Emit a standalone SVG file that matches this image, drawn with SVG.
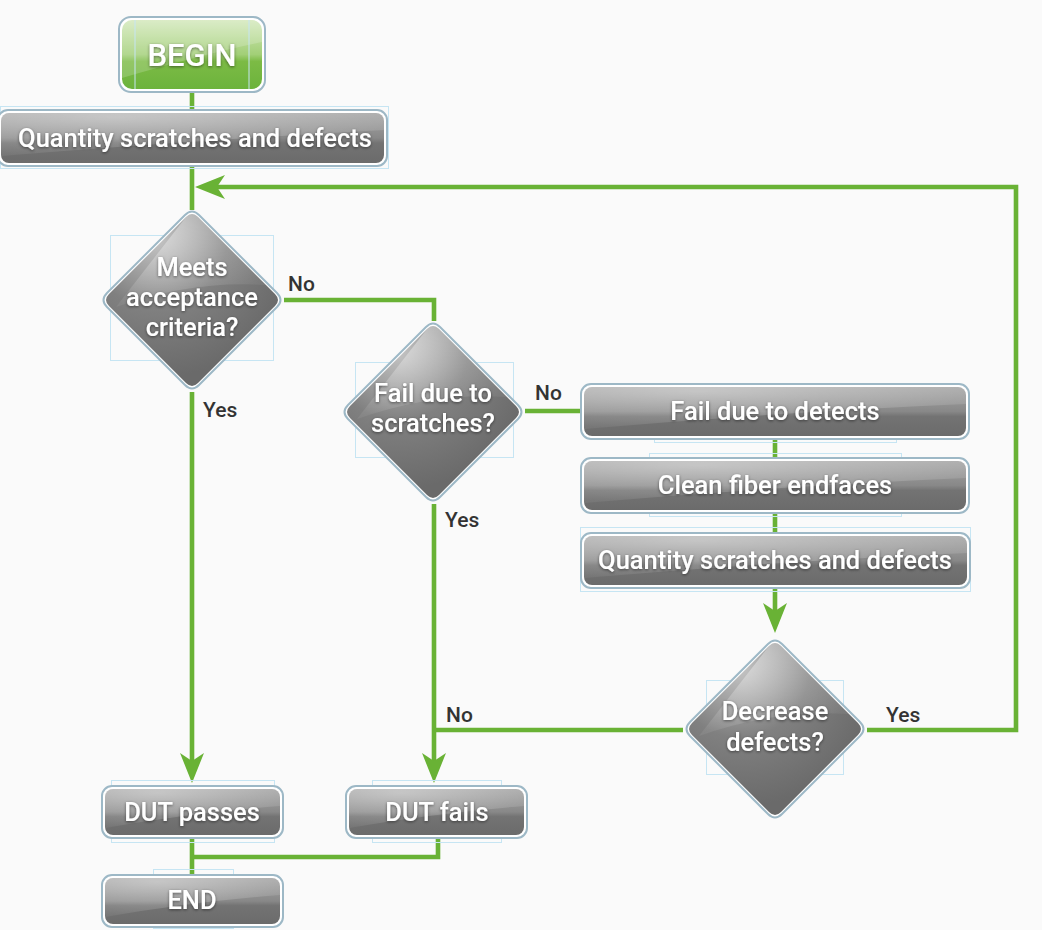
<svg xmlns="http://www.w3.org/2000/svg" width="1042" height="930" viewBox="0 0 1042 930">
<defs>
<style>
.bg{fill:#fafafa}
.frame{fill:none;stroke:#c6e5f3;stroke-width:1}
.ring{fill:#ffffff;stroke:#9db8c6;stroke-width:2}
.body{fill:url(#gray)}
.gbody{fill:url(#green)}
.gloss{fill:url(#glossG)}
.t{font-family:Roboto,"DejaVu Sans",sans-serif;font-weight:500;fill:#ffffff;font-size:25.5px;text-anchor:middle;filter:url(#sh)}
.td{font-size:25.5px}
.l{font-family:Roboto,"DejaVu Sans",sans-serif;font-weight:500;fill:#333333;font-size:21px}
.c{fill:none;stroke:#69b235;stroke-width:4.6}
</style>
<linearGradient id="gray" x1="0" y1="0" x2="0" y2="1">
<stop offset="0" stop-color="#a4a4a4"/>
<stop offset="0.5" stop-color="#888888"/>
<stop offset="0.6" stop-color="#737373"/>
<stop offset="1" stop-color="#6b6b6b"/>
</linearGradient>
<radialGradient id="dgray" cx="0.3" cy="0.15" r="0.8">
<stop offset="0" stop-color="#c4c4c4"/>
<stop offset="0.5" stop-color="#808080"/>
<stop offset="1" stop-color="#6a6a6a"/>
</radialGradient>
<linearGradient id="green" x1="0" y1="0" x2="0" y2="1">
<stop offset="0" stop-color="#d3e8bb"/>
<stop offset="0.5" stop-color="#a2cf77"/>
<stop offset="0.6" stop-color="#7cbb45"/>
<stop offset="1" stop-color="#6cb33c"/>
</linearGradient>
<radialGradient id="glossG" cx="0.3" cy="0.1" r="0.9">
<stop offset="0" stop-color="#ffffff" stop-opacity="0.4"/>
<stop offset="1" stop-color="#ffffff" stop-opacity="0.06"/>
</radialGradient>
<filter id="sh" x="-10%" y="-30%" width="120%" height="160%">
<feDropShadow dx="0" dy="1" stdDeviation="1.5" flood-color="#000" flood-opacity="0.5"/>
</filter>
<marker id="arr" markerUnits="userSpaceOnUse" markerWidth="30" markerHeight="24" viewBox="0 0 30 24" refX="20" refY="12" orient="auto">
<path d="M0,0 L30,12 L0,24 L8,12 Z" fill="#69b235"/>
</marker>
<path id="dOut" d="M-7,-85 Q0,-92 7,-85 L85,-7 Q92,0 85,7 L7,85 Q0,92 -7,85 L-85,7 Q-92,0 -85,-7 Z"/>
<path id="dIn" d="M-6,-83 Q0,-89 6,-83 L83,-6 Q89,0 83,6 L6,83 Q0,89 -6,83 L-83,6 Q-89,0 -83,-6 Z"/>
<path id="dGloss" d="M-76,7 L-6,-83 Q0,-89 6,-83 L74,-15 Q0,-20 -76,7 Z"/>
</defs>
<rect class="bg" x="0" y="0" width="1042" height="930"/>

<g id="connectors">
<path class="c" d="M192,92 V110"/>
<path class="c" d="M192,166 V210"/>
<path class="c" d="M284,300 H434 V321"/>
<path class="c" d="M525,411 H582"/>
<path class="c" d="M775,438 V458"/>
<path class="c" d="M775,512 V533"/>
<path class="c" d="M775,588 V623" marker-end="url(#arr)"/>
<path class="c" d="M192,392 V773" marker-end="url(#arr)"/>
<path class="c" d="M434,504 V773" marker-end="url(#arr)"/>
<path class="c" d="M683,730 H434"/>
<path class="c" d="M867,730 H1016 V187 H205" marker-end="url(#arr)"/>
<path class="c" d="M192,838 V875"/>
<path class="c" d="M438,838 V857 H192"/>
</g>

<g id="begin">
<rect class="ring" x="119" y="17" width="146" height="75" rx="12" stroke="#8fc56a"/>
<rect class="gbody" x="122" y="20" width="140" height="69" rx="10"/>
<path d="M122,78 L122,30 Q122,20 132,20 L252,20 Q262,20 262,30 L262,42 Q200,55 122,78 Z" fill="#ffffff" fill-opacity="0.18"/>
<line class="frame" x1="135" y1="20" x2="135" y2="89"/>
<line class="frame" x1="249" y1="20" x2="249" y2="89"/>
<text class="t" x="192" y="66" style="font-size:31px">BEGIN</text>
</g>

<g id="quantity1">
<rect class="frame" x="0.5" y="106.5" width="388" height="62"/>
<rect class="ring" x="-2" y="110" width="389" height="56" rx="10"/>
<rect class="body" x="1" y="113" width="383" height="50" rx="8"/>
<path class="gloss" d="M1,156 L1,121 Q1,113 9,113 L376,113 Q384,113 384,121 L384,130 Q200,140 1,156 Z"/>
<text class="t" x="195" y="147">Quantity scratches and defects</text>
</g>

<g id="meets">
<rect class="frame" x="110.5" y="235.5" width="163" height="125"/>
<use href="#dOut" x="192" y="300" class="ring"/>
<use href="#dIn" x="192" y="300" fill="url(#dgray)"/>
<use href="#dGloss" x="192" y="300" class="gloss"/>
<text class="t td" x="192" y="276">Meets</text>
<text class="t td" x="192" y="306">acceptance</text>
<text class="t td" x="192" y="336">criteria?</text>
</g>

<g id="scratches">
<rect class="frame" x="355.5" y="362.5" width="158" height="95"/>
<use href="#dOut" x="433" y="412" class="ring"/>
<use href="#dIn" x="433" y="412" fill="url(#dgray)"/>
<use href="#dGloss" x="433" y="412" class="gloss"/>
<text class="t td" x="433" y="402">Fail due to</text>
<text class="t td" x="433" y="432">scratches?</text>
</g>

<g id="detects">
<rect class="frame" x="654.5" y="383.5" width="242" height="59"/>
<rect class="ring" x="581" y="384" width="388" height="55" rx="10"/>
<rect class="body" x="584" y="387" width="382" height="49" rx="8"/>
<path class="gloss" d="M584,429 L584,395 Q584,387 592,387 L958,387 Q966,387 966,395 L966,404 Q780,412 584,429 Z"/>
<text class="t" x="775" y="420">Fail due to detects</text>
</g>

<g id="clean">
<rect class="frame" x="649.5" y="453.5" width="252" height="63"/>
<rect class="ring" x="581" y="458" width="388" height="55" rx="10"/>
<rect class="body" x="584" y="461" width="382" height="49" rx="8"/>
<path class="gloss" d="M584,503 L584,469 Q584,461 592,461 L958,461 Q966,461 966,469 L966,478 Q780,486 584,503 Z"/>
<text class="t" x="775" y="494">Clean fiber endfaces</text>
</g>

<g id="quantity2">
<rect class="frame" x="580.5" y="527.5" width="390" height="64"/>
<rect class="ring" x="581" y="533" width="389" height="55" rx="10"/>
<rect class="body" x="584" y="536" width="383" height="49" rx="8"/>
<path class="gloss" d="M584,578 L584,544 Q584,536 592,536 L959,536 Q967,536 967,544 L967,553 Q780,561 584,578 Z"/>
<text class="t" x="775" y="569">Quantity scratches and defects</text>
</g>

<g id="decrease">
<rect class="frame" x="706.5" y="680.5" width="137" height="94"/>
<use href="#dOut" x="775" y="729" class="ring"/>
<use href="#dIn" x="775" y="729" fill="url(#dgray)"/>
<use href="#dGloss" x="775" y="729" class="gloss"/>
<text class="t td" x="775" y="720">Decrease</text>
<text class="t td" x="775" y="751">defects?</text>
</g>

<g id="passes">
<rect class="frame" x="111.5" y="780.5" width="163" height="62"/>
<rect class="ring" x="102" y="786" width="181" height="52" rx="10"/>
<rect class="body" x="105" y="789" width="175" height="46" rx="8"/>
<path class="gloss" d="M105,828 L105,797 Q105,789 113,789 L272,789 Q280,789 280,797 L280,806 Q190,813 105,828 Z"/>
<text class="t" x="192" y="821">DUT passes</text>
</g>

<g id="fails">
<rect class="frame" x="372.5" y="780.5" width="129" height="62"/>
<rect class="ring" x="346" y="786" width="181" height="52" rx="10"/>
<rect class="body" x="349" y="789" width="175" height="46" rx="8"/>
<path class="gloss" d="M349,828 L349,797 Q349,789 357,789 L516,789 Q524,789 524,797 L524,806 Q435,813 349,828 Z"/>
<text class="t" x="437" y="821">DUT fails</text>
</g>

<g id="end">
<rect class="frame" x="153.5" y="869.5" width="80" height="59"/>
<rect class="ring" x="102" y="875" width="181" height="52" rx="10"/>
<rect class="body" x="105" y="878" width="175" height="46" rx="8"/>
<path class="gloss" d="M105,917 L105,886 Q105,878 113,878 L272,878 Q280,878 280,886 L280,895 Q190,902 105,917 Z"/>
<text class="t" x="192" y="909">END</text>
</g>

<g id="labels">
<text class="l" x="288" y="291">No</text>
<text class="l" x="203" y="417">Yes</text>
<text class="l" x="535" y="400">No</text>
<text class="l" x="445" y="527">Yes</text>
<text class="l" x="446" y="722">No</text>
<text class="l" x="886" y="722">Yes</text>
</g>
</svg>
